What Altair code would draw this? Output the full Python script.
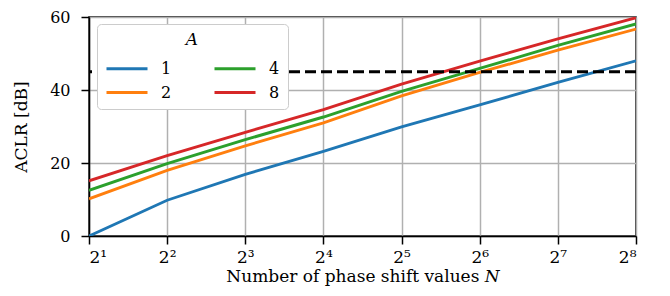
import json
import altair as alt
import pandas as pd

# ---- data ----
N_VALUES = [2, 4, 8, 16, 32, 64, 128, 256]
ACLR_A1 = [0.0, 9.8, 16.9, 23.2, 29.9, 35.9, 42.1, 48.0]
ACLR_A2 = [10.2, 18.0, 24.7, 31.0, 38.4, 44.8, 50.9, 56.7]
ACLR_A4 = [12.5, 19.8, 26.4, 32.6, 39.6, 45.9, 52.2, 58.1]
ACLR_A8 = [15.1, 22.0, 28.4, 34.6, 41.6, 47.9, 54.0, 59.8]
SERIES = {"1": ACLR_A1, "2": ACLR_A2, "4": ACLR_A4, "8": ACLR_A8}
THRESHOLD = 45
X_TICKS = [2, 4, 8, 16, 32, 64, 128, 256]
X_TICK_LABELS = ["2¹", "2²", "2³", "2⁴", "2⁵", "2⁶", "2⁷", "2⁸"]
Y_TICKS = [0, 20, 40, 60]
LEGEND_ORDER = ["1", "2", "4", "8"]
LEGEND_COLORS = ["#1f77b4", "#ff7f0e", "#2ca02c", "#d62728"]

rows = []
for a, vals in SERIES.items():
    for n, v in zip(N_VALUES, vals):
        rows.append({"N": n, "ACLR": v, "A": a})
df = pd.DataFrame(rows)

FONT = "DejaVu Serif"

label_expr = (
    "{" + ",".join(f"'{t}': {json.dumps(l)}" for t, l in zip(X_TICKS, X_TICK_LABELS)) + "}[datum.value]"
)

lines = alt.Chart(df).mark_line(strokeWidth=2.9, clip=True).encode(
    x=alt.X(
        "N:Q",
        scale=alt.Scale(type="log", base=2, domain=[2, 256], nice=False),
        axis=alt.Axis(
            values=X_TICKS,
            labelExpr=label_expr,
            labelFontSize=17,
            labelPadding=5,
            title="Number of phase shift values 𝑁",
            titlePadding=3,
        ),
    ),
    y=alt.Y(
        "ACLR:Q",
        scale=alt.Scale(domain=[0, 60], nice=False),
        axis=alt.Axis(values=Y_TICKS, title="ACLR [dB]", titlePadding=19, labelPadding=11),
    ),
    color=alt.Color(
        "A:N",
        scale=alt.Scale(domain=LEGEND_ORDER, range=LEGEND_COLORS),
        legend=alt.Legend(
            title="A",
            orient="none",
            legendX=8,
            legendY=7,
            columns=2,
            columnPadding=36,
            rowPadding=6,
            symbolType="M-1,0H4.125",
            symbolSize=256,
            symbolStrokeWidth=3,
            labelOffset=37,
            titleAnchor="middle",
            titleFontStyle="italic",
            titleFont=FONT,
            titleFontWeight="normal",
            titleFontSize=17,
            titlePadding=10,
            labelFont=FONT,
            labelFontSize=16,
            fillColor="white",
            strokeColor="#cccccc",
            cornerRadius=4,
            padding=8,
        ),
    ),
)

rule = alt.Chart().mark_rule(color="black", strokeWidth=3, strokeDash=[11, 5]).encode(
    y=alt.datum(THRESHOLD)
)

chart = (
    alt.layer(lines, rule)
    .properties(
        width=547,
        height=219,
        autosize=alt.AutoSizeParams(type="none"),
        padding={"left": 81, "top": 9, "right": 26, "bottom": 52},
    )
    .configure_view(stroke="black", strokeWidth=1.5)
    .configure_axis(
        labelFont=FONT,
        titleFont=FONT,
        labelFontSize=16,
        titleFontSize=17,
        titleFontWeight="normal",
        labelColor="black",
        titleColor="black",
        domainColor="black",
        domainWidth=1.5,
        tickColor="black",
        tickWidth=1.5,
        tickSize=8,
        gridColor="#b0b0b0",
        gridWidth=1.5,
        gridOpacity=1,
    )
)

chart.save("out.html", embed_options={"renderer": "svg", "actions": False})
